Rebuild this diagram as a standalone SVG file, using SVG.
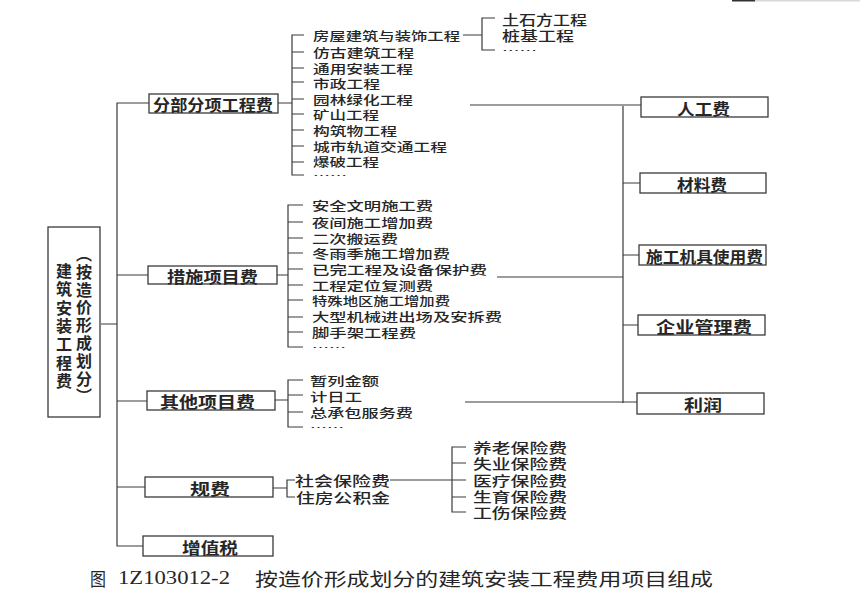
<svg xmlns="http://www.w3.org/2000/svg" width="860" height="596" viewBox="0 0 860 596">
<style>
text{font-family:"Noto Sans CJK SC","Noto Sans",sans-serif;fill:#262626;dominant-baseline:central}
.box{fill:#fff;stroke:#3a3a3a;stroke-width:1.3}
.ln{fill:none;stroke:#3a3a3a;stroke-width:1.2}
.bt{font-size:15.5px;font-weight:bold}
.it{font-size:12.5px;font-weight:500}
.it2{font-size:13.5px;font-weight:500}
.dots{font-size:8px}
.cap{font-size:18px}
.vt{font-size:16px;font-weight:bold;writing-mode:vertical-rl;dominant-baseline:auto}
</style>
<rect width="860" height="596" fill="#fff"/>
<rect x="732" y="0" width="23" height="1.5" fill="#333"/>
<rect x="755" y="0" width="105" height="1.5" fill="#d8d8d8"/>

<g id="connectors" class="ln">
<path d="M101 324H117M149 103H117V546H143M117 275H148M117 401H147M117 487H145"/>
<path d="M278 103H292M304 35H292V175H304M292 52H304M292 68H304M292 82H304M292 99H304M292 114H304M292 130H304M292 146H304M292 162H304"/>
<path d="M463 35H482M495 18H482V50H495"/>
<path d="M277 275H288M303 205H288V347H303M288 222H303M288 238H303M288 253H303M288 269H303M288 285H303M288 300H303M288 317H303M288 332H303"/>
<path d="M275 400H288M303 380H288V427H303M288 395H303M288 412H303"/>
<path d="M273 488H287M295 480H287V497H295"/>
<path d="M390 480H452M466 447H452V512H466M452 463H466M452 480H466M452 497H466"/>
<path d="M470 105H641M623 106V403M623 183H640M623 255H639M623 325H638M465 402H637M497 277H623"/>
</g>

<g id="root">
<rect class="box" x="48" y="227" width="52" height="190"/>
<text class="vt" x="64" y="263" style="letter-spacing:2.3px">建筑安装工程费</text>
<text class="vt" x="84" y="246" style="letter-spacing:1.8px">（按造价形成划分）</text>
</g>

<g id="fbfx">
<rect class="box" x="149" y="94" width="129" height="19"/>
<text class="bt" x="153" y="104" textLength="120" lengthAdjust="spacingAndGlyphs">分部分项工程费</text>
</g>
<g id="fbfx-items">
<text class="it" x="313" y="35" textLength="147" lengthAdjust="spacingAndGlyphs">房屋建筑与装饰工程</text>
<text class="it" x="313" y="52" textLength="101" lengthAdjust="spacingAndGlyphs">仿古建筑工程</text>
<text class="it" x="313" y="68" textLength="100" lengthAdjust="spacingAndGlyphs">通用安装工程</text>
<text class="it" x="313" y="83" textLength="67" lengthAdjust="spacingAndGlyphs">市政工程</text>
<text class="it" x="313" y="99" textLength="100" lengthAdjust="spacingAndGlyphs">园林绿化工程</text>
<text class="it" x="313" y="114" textLength="66" lengthAdjust="spacingAndGlyphs">矿山工程</text>
<text class="it" x="313" y="130" textLength="84" lengthAdjust="spacingAndGlyphs">构筑物工程</text>
<text class="it" x="313" y="146" textLength="134" lengthAdjust="spacingAndGlyphs">城市轨道交通工程</text>
<text class="it" x="313" y="161" textLength="66" lengthAdjust="spacingAndGlyphs">爆破工程</text>
<text class="dots" x="313" y="175" textLength="34" lengthAdjust="spacingAndGlyphs">……</text>
<text class="it2" x="502" y="19" textLength="85" lengthAdjust="spacingAndGlyphs">土石方工程</text>
<text class="it2" x="502" y="35" textLength="72" lengthAdjust="spacingAndGlyphs">桩基工程</text>
<text class="dots" x="502" y="50" textLength="35" lengthAdjust="spacingAndGlyphs">……</text>
</g>

<g id="csxm">
<rect class="box" x="148" y="266" width="129" height="18"/>
<text class="bt" x="167" y="275.5" textLength="91" lengthAdjust="spacingAndGlyphs">措施项目费</text>
</g>
<g id="csxm-items">
<text class="it" x="312" y="205" textLength="121" lengthAdjust="spacingAndGlyphs">安全文明施工费</text>
<text class="it" x="312" y="222" textLength="121" lengthAdjust="spacingAndGlyphs">夜间施工增加费</text>
<text class="it" x="312" y="238" textLength="86" lengthAdjust="spacingAndGlyphs">二次搬运费</text>
<text class="it" x="312" y="253" textLength="138" lengthAdjust="spacingAndGlyphs">冬雨季施工增加费</text>
<text class="it" x="312" y="269" textLength="175" lengthAdjust="spacingAndGlyphs">已完工程及设备保护费</text>
<text class="it" x="312" y="285" textLength="121" lengthAdjust="spacingAndGlyphs">工程定位复测费</text>
<text class="it" x="312" y="300" textLength="138" lengthAdjust="spacingAndGlyphs">特殊地区施工增加费</text>
<text class="it" x="312" y="316" textLength="190" lengthAdjust="spacingAndGlyphs">大型机械进出场及安拆费</text>
<text class="it" x="312" y="332" textLength="104" lengthAdjust="spacingAndGlyphs">脚手架工程费</text>
<text class="dots" x="312" y="347" textLength="34" lengthAdjust="spacingAndGlyphs">……</text>
</g>

<g id="qtxm">
<rect class="box" x="147" y="391" width="128" height="19"/>
<text class="bt" x="160" y="401" textLength="95" lengthAdjust="spacingAndGlyphs">其他项目费</text>
</g>
<g id="qtxm-items">
<text class="it" x="310" y="380" textLength="69" lengthAdjust="spacingAndGlyphs">暂列金额</text>
<text class="it" x="310" y="396" textLength="52" lengthAdjust="spacingAndGlyphs">计日工</text>
<text class="it" x="310" y="412" textLength="103" lengthAdjust="spacingAndGlyphs">总承包服务费</text>
<text class="dots" x="310" y="427" textLength="34" lengthAdjust="spacingAndGlyphs">……</text>
</g>

<g id="guifei">
<rect class="box" x="145" y="477" width="128" height="20"/>
<text class="bt" x="190" y="487.5" textLength="40" lengthAdjust="spacingAndGlyphs">规费</text>
</g>
<g id="guifei-items">
<text class="it2" x="295" y="480" textLength="95" lengthAdjust="spacingAndGlyphs">社会保险费</text>
<text class="it2" x="296" y="497" textLength="94" lengthAdjust="spacingAndGlyphs">住房公积金</text>
<text class="it2" x="473" y="447" textLength="94" lengthAdjust="spacingAndGlyphs">养老保险费</text>
<text class="it2" x="473" y="463" textLength="94" lengthAdjust="spacingAndGlyphs">失业保险费</text>
<text class="it2" x="473" y="480" textLength="94" lengthAdjust="spacingAndGlyphs">医疗保险费</text>
<text class="it2" x="473" y="496" textLength="94" lengthAdjust="spacingAndGlyphs">生育保险费</text>
<text class="it2" x="473" y="512" textLength="94" lengthAdjust="spacingAndGlyphs">工伤保险费</text>
</g>

<g id="zzs">
<rect class="box" x="143" y="536" width="130" height="20"/>
<text class="bt" x="182" y="546.5" textLength="56" lengthAdjust="spacingAndGlyphs">增值税</text>
</g>

<g id="rgf">
<rect class="box" x="641" y="97" width="127" height="20"/>
<text class="bt" x="677" y="107.5" textLength="53" lengthAdjust="spacingAndGlyphs">人工费</text>
</g>
<g id="clf">
<rect class="box" x="640" y="173" width="126" height="20"/>
<text class="bt" x="677" y="183.5" textLength="50" lengthAdjust="spacingAndGlyphs">材料费</text>
</g>
<g id="jjf">
<rect class="box" x="639" y="245" width="127" height="20"/>
<text class="bt" x="646" y="255.5" textLength="117" lengthAdjust="spacingAndGlyphs">施工机具使用费</text>
</g>
<g id="glf">
<rect class="box" x="638" y="315" width="127" height="20"/>
<text class="bt" x="656" y="325.5" textLength="96" lengthAdjust="spacingAndGlyphs">企业管理费</text>
</g>
<g id="lr">
<rect class="box" x="637" y="393" width="127" height="21"/>
<text class="bt" x="684" y="403.5" textLength="38" lengthAdjust="spacingAndGlyphs">利润</text>
</g>

<g id="caption">
<text class="cap" x="90" y="578" textLength="16" lengthAdjust="spacingAndGlyphs">图</text>
<text class="cap" x="118" y="578" textLength="112" lengthAdjust="spacingAndGlyphs" style="font-family:'Liberation Serif',serif">1Z103012-2</text>
<text class="cap" x="255" y="578" textLength="458" lengthAdjust="spacingAndGlyphs">按造价形成划分的建筑安装工程费用项目组成</text>
</g>
</svg>
